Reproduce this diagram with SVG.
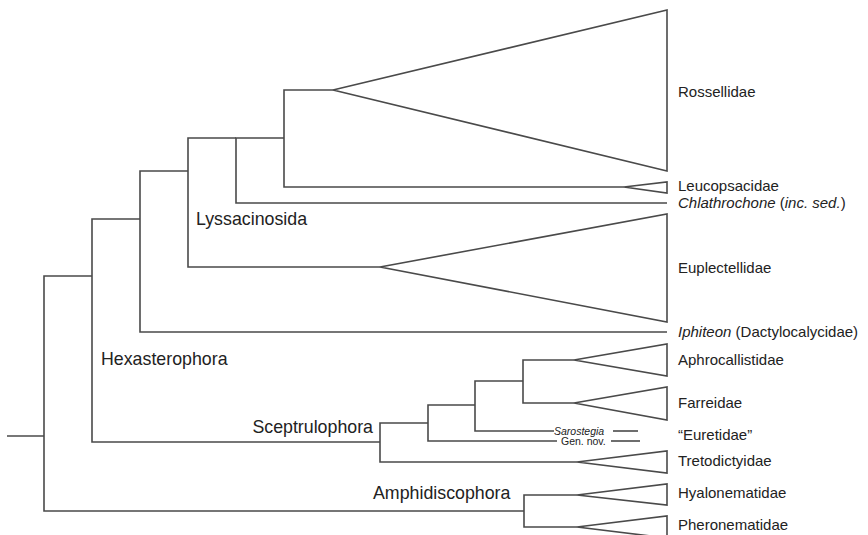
<svg xmlns="http://www.w3.org/2000/svg" width="868" height="535" viewBox="0 0 868 535">
  <style>
    .br { fill: none; stroke: #4a4a4a; stroke-width: 1.6; stroke-linejoin: miter; }
    .cl { fill: #fff; stroke: #4a4a4a; stroke-width: 1.6; stroke-linejoin: miter; }
    .tx { font-family: "Liberation Sans", Arial, sans-serif; fill: #222; }
    .grp { font-size: 17.8px; }
    .tip { font-size: 15px; }
    .sm { font-size: 10.5px; }
  </style>
  <rect width="868" height="535" fill="#fff"/>

  <!-- branches -->
  <g id="connectors">
    <path class="br" d="M7 436 H44"/>
    <path class="br" d="M92 276 H44 V511 H524"/>
    <path class="br" d="M140 219 H92 V442 H380"/>
    <path class="br" d="M188 171 H140 V332 H667"/>
    <path class="br" d="M236 138 H188 V267 H380"/>
    <path class="br" d="M333 90 H284 V187 H624"/>
    <path class="br" d="M284 138 H236 V203 H667"/>
    <path class="br" d="M428 423 H380 V462 H577"/>
    <path class="br" d="M475 405 H428 V441 H557"/>
    <path class="br" d="M523 381 H475 V431 H554"/>
    <path class="br" d="M574 360 H523 V403 H574"/>
    <path class="br" d="M577 495 H524 V527 H577"/>
    <path class="br" d="M613 431 H638"/>
    <path class="br" d="M611 441 H640"/>
  </g>

  <!-- collapsed clades -->
  <g id="rossellidae">
    <polygon class="cl" points="333,90 667,10 667,171"/>
    <text class="tx tip" x="678" y="97">Rossellidae</text>
  </g>
  <g id="leucopsacidae">
    <polygon class="cl" points="624,187 667,182 667,193"/>
    <text class="tx tip" x="678" y="191">Leucopsacidae</text>
  </g>
  <g id="chlathrochone">
    <text class="tx tip" x="678" y="208"><tspan font-style="italic">Chlathrochone</tspan> (<tspan font-style="italic">inc. sed.</tspan>)</text>
  </g>
  <g id="euplectellidae">
    <polygon class="cl" points="380,267 667,214 667,322"/>
    <text class="tx tip" x="678" y="273">Euplectellidae</text>
  </g>
  <g id="iphiteon">
    <text class="tx tip" x="678" y="337"><tspan font-style="italic">Iphiteon</tspan> (Dactylocalycidae)</text>
  </g>
  <g id="aphrocallistidae">
    <polygon class="cl" points="574,360 667,344 667,376"/>
    <text class="tx tip" x="678" y="365">Aphrocallistidae</text>
  </g>
  <g id="farreidae">
    <polygon class="cl" points="574,403 667,387 667,420"/>
    <text class="tx tip" x="678" y="408">Farreidae</text>
  </g>
  <g id="euretidae">
    <text class="tx sm" x="554" y="434.5" font-style="italic">Sarostegia</text>
    <text class="tx sm" x="561" y="445">Gen. nov.</text>
    <text class="tx tip" x="678" y="440">“Euretidae”</text>
  </g>
  <g id="tretodictyidae">
    <polygon class="cl" points="577,462 667,451 667,473"/>
    <text class="tx tip" x="678" y="466">Tretodictyidae</text>
  </g>
  <g id="hyalonematidae">
    <polygon class="cl" points="577,495 667,484 667,505"/>
    <text class="tx tip" x="678" y="498">Hyalonematidae</text>
  </g>
  <g id="pheronematidae">
    <polygon class="cl" points="577,527 667,516 667,538"/>
    <text class="tx tip" x="678" y="530">Pheronematidae</text>
  </g>

  <!-- clade names -->
  <g id="lyssacinosida"><text class="tx grp" x="196" y="225">Lyssacinosida</text></g>
  <g id="hexasterophora"><text class="tx grp" x="101" y="365">Hexasterophora</text></g>
  <g id="sceptrulophora"><text class="tx grp" x="373" y="433" text-anchor="end">Sceptrulophora</text></g>
  <g id="amphidiscophora"><text class="tx grp" x="373" y="499">Amphidiscophora</text></g>
</svg>
